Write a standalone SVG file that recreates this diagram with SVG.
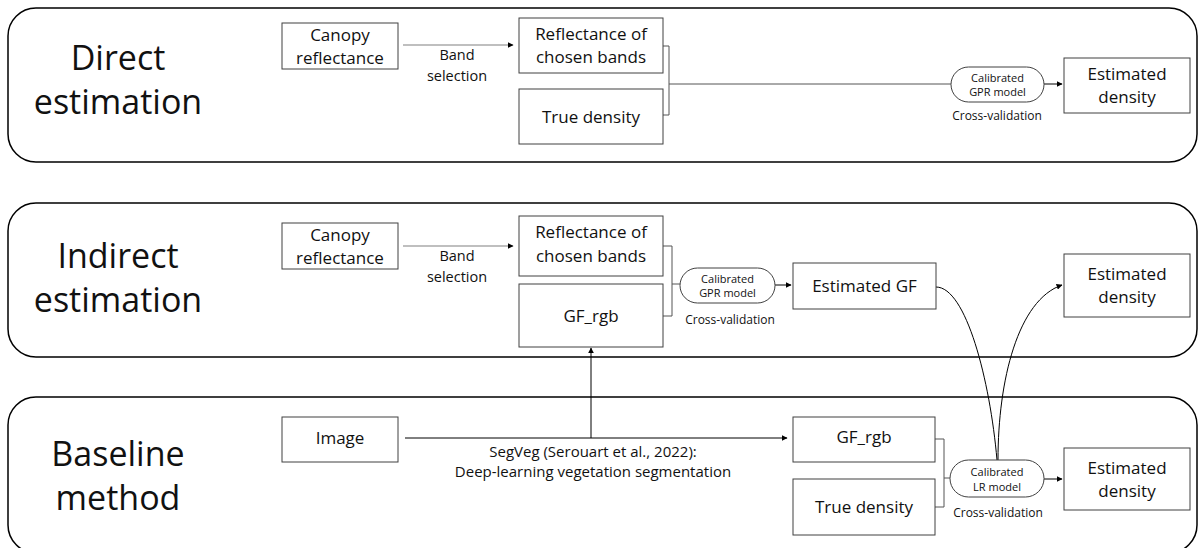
<svg xmlns="http://www.w3.org/2000/svg" width="1203" height="548" viewBox="0 0 1203 548">
<style>
.panel{fill:#fff;stroke:#000;stroke-width:1.5}
.box{fill:#fff;stroke:#404040;stroke-width:1}
.pill{fill:#fff;stroke:#404040;stroke-width:1}
text{font-family:"Open Sans","Liberation Sans",sans-serif;fill:#111;text-anchor:middle}
.title{font-size:34px}
.bt{font-size:17px}
.pt{font-size:11px}
.cv{font-size:12px}
.lbl{font-size:14.5px}
.seg{font-size:15px}
.ln{fill:none;stroke:#000;stroke-width:1}
.gl{fill:none;stroke:#808080;stroke-width:1.2}
.br{fill:none;stroke:#555;stroke-width:1}
</style>
<defs>
<marker id="ah" viewBox="0 0 10 10" refX="9" refY="5" markerWidth="6" markerHeight="6" markerUnits="userSpaceOnUse" orient="auto">
<path d="M0,0 L10,5 L0,10 z" fill="#000"/>
</marker>
</defs>
<g id="panels">
<rect class="panel" x="8" y="8" width="1189" height="154" rx="28"/>
<rect class="panel" x="8" y="203" width="1189" height="154" rx="28"/>
<rect class="panel" x="8" y="397" width="1189" height="156" rx="28"/>
<text class="title" x="118" y="70">Direct</text>
<text class="title" x="118" y="114">estimation</text>
<text class="title" x="118" y="268">Indirect</text>
<text class="title" x="118" y="312">estimation</text>
<text class="title" x="118" y="466">Baseline</text>
<text class="title" x="118" y="510">method</text>
</g>
<g id="connectors">
<line class="gl" x1="403" y1="45" x2="513" y2="45" marker-end="url(#ah)"/>
<path class="br" d="M663,46 H669 V115 H663 M669,84 H951"/>
<line class="ln" x1="1044" y1="84" x2="1062" y2="84" marker-end="url(#ah)"/>
<line class="gl" x1="403" y1="246" x2="513" y2="246" marker-end="url(#ah)"/>
<path class="br" d="M663,246 H672 V316 H663 M672,284 H680"/>
<line class="ln" x1="775" y1="285" x2="791" y2="285" marker-end="url(#ah)"/>
<path class="ln" d="M936,287 C966,287 990,380 997,460"/>
<path class="ln" d="M998,460 C998,380 1018,300 1062,285" marker-end="url(#ah)"/>
<line class="ln" x1="405" y1="438" x2="787" y2="438" marker-end="url(#ah)"/>
<line class="ln" x1="591" y1="438" x2="591" y2="348" marker-end="url(#ah)"/>
<path class="br" d="M935,439 H944 V507 H935 M944,478 H950"/>
<line class="ln" x1="1044" y1="479" x2="1062" y2="479" marker-end="url(#ah)"/>
<text class="lbl" x="457" y="60">Band</text>
<text class="lbl" x="457" y="81">selection</text>
<text class="lbl" x="457" y="261">Band</text>
<text class="lbl" x="457" y="282">selection</text>
<text class="seg" x="593" y="457">SegVeg (Serouart et al., 2022):</text>
<text class="seg" x="593" y="477">Deep-learning vegetation segmentation</text>
</g>
<g id="d-canopy"><rect class="box" x="282" y="23" width="116" height="46"/><text class="bt" x="340" y="41">Canopy</text><text class="bt" x="340" y="64">reflectance</text></g>
<g id="d-refl"><rect class="box" x="519" y="18" width="144" height="55"/><text class="bt" x="591" y="40">Reflectance of</text><text class="bt" x="591" y="63">chosen bands</text></g>
<g id="d-true"><rect class="box" x="519" y="89" width="144" height="55"/><text class="bt" x="591" y="123">True density</text></g>
<g id="d-gpr"><rect class="pill" x="951" y="67" width="93" height="35" rx="17.5"/><text class="pt" x="997.5" y="82">Calibrated</text><text class="pt" x="997.5" y="96">GPR model</text><text class="cv" x="997" y="120">Cross-validation</text></g>
<g id="d-est"><rect class="box" x="1064" y="58" width="126" height="55"/><text class="bt" x="1127" y="80">Estimated</text><text class="bt" x="1127" y="103">density</text></g>
<g id="i-canopy"><rect class="box" x="282" y="223" width="116" height="46"/><text class="bt" x="340" y="241">Canopy</text><text class="bt" x="340" y="264">reflectance</text></g>
<g id="i-refl"><rect class="box" x="519" y="216" width="144" height="60"/><text class="bt" x="591" y="238">Reflectance of</text><text class="bt" x="591" y="262">chosen bands</text></g>
<g id="i-gfrgb"><rect class="box" x="519" y="284" width="144" height="63"/><text class="bt" x="591" y="322">GF_rgb</text></g>
<g id="i-gpr"><rect class="pill" x="680" y="268" width="95" height="35" rx="17.5"/><text class="pt" x="727.5" y="283">Calibrated</text><text class="pt" x="727.5" y="297">GPR model</text><text class="cv" x="730" y="324">Cross-validation</text></g>
<g id="i-estgf"><rect class="box" x="793" y="263" width="143" height="46"/><text class="bt" x="864.5" y="292">Estimated GF</text></g>
<g id="i-est"><rect class="box" x="1064" y="254" width="126" height="63"/><text class="bt" x="1127" y="280">Estimated</text><text class="bt" x="1127" y="303">density</text></g>
<g id="b-image"><rect class="box" x="282" y="417" width="116" height="45"/><text class="bt" x="340" y="444">Image</text></g>
<g id="b-gfrgb"><rect class="box" x="793" y="417" width="142" height="45"/><text class="bt" x="864" y="443">GF_rgb</text></g>
<g id="b-true"><rect class="box" x="793" y="479" width="142" height="56"/><text class="bt" x="864" y="513">True density</text></g>
<g id="b-lr"><rect class="pill" x="950" y="460" width="94" height="37" rx="18.5"/><text class="pt" x="997" y="476">Calibrated</text><text class="pt" x="997" y="491">LR model</text><text class="cv" x="998" y="517">Cross-validation</text></g>
<g id="b-est"><rect class="box" x="1064" y="448" width="126" height="62"/><text class="bt" x="1127" y="474">Estimated</text><text class="bt" x="1127" y="497">density</text></g>
</svg>
